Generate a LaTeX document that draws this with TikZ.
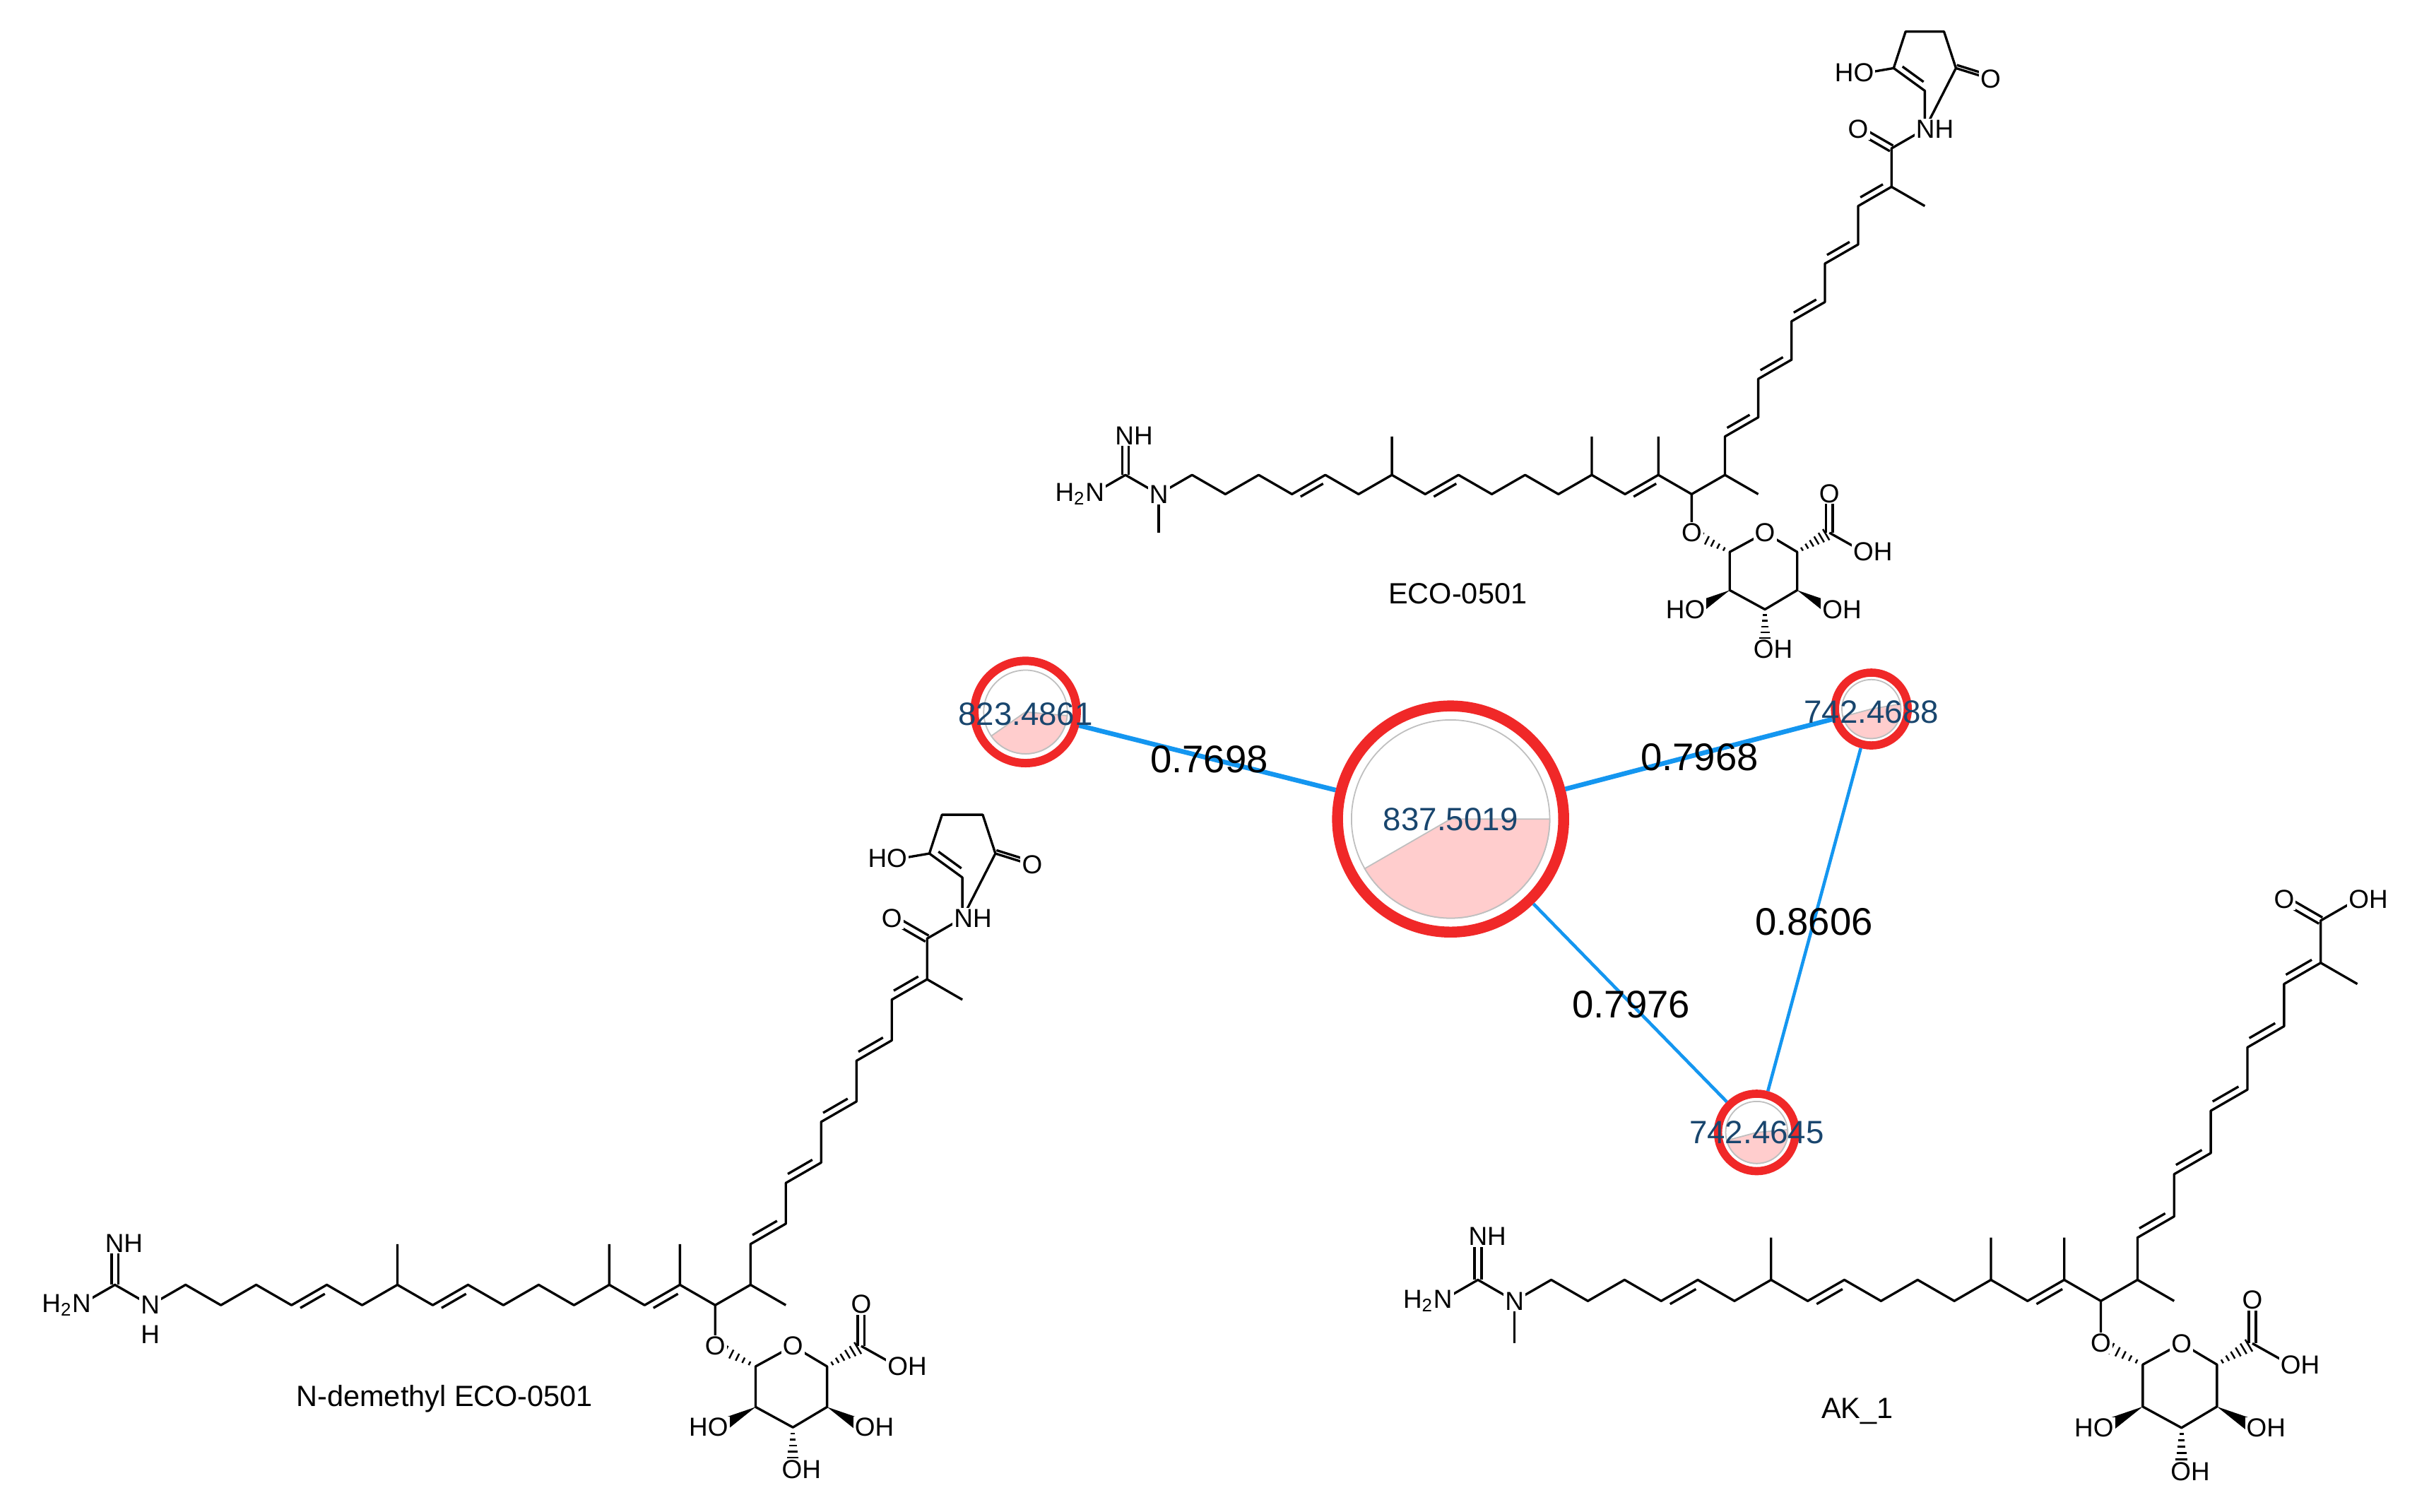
\documentclass[tikz,border=0pt]{standalone}
\usepackage{fontspec}
\setmainfont{Liberation Sans}
\usetikzlibrary{calc}
\definecolor{edgeblue}{RGB}{20,150,240}
\definecolor{ringred}{RGB}{240,40,40}
\definecolor{pinkfill}{RGB}{255,205,205}
\definecolor{lblue}{RGB}{25,70,110}
\tikzset{
  bond/.style={line width=0.95pt, line join=round},
  atom/.style={fill=white, inner sep=0.6pt, font=\fontsize{10.5}{10.5}\selectfont},
  netnode/.style={circle, draw=ringred, fill=white, inner sep=0pt},
  edgelbl/.style={font=\fontsize{15.5}{15.5}\selectfont},
  masslbl/.style={font=\fontsize{13}{13}\selectfont, text=lblue, inner sep=0pt},
  cname/.style={font=\fontsize{11.8}{11.8}\selectfont},
  netedge/.style={draw=edgeblue}
}
\newcommand{\dbl}[4]{\draw[bond, shorten <=2.5pt, shorten >=2.5pt] ($(#1)!2.6pt!#3:(#2)$) -- ($(#2)!2.6pt!#4:(#1)$);}
\newcommand{\dblc}[2]{\draw[bond] ($(#1)!1.3pt!90:(#2)$) -- ($(#2)!1.3pt!-90:(#1)$);\draw[bond] ($(#1)!1.3pt!-90:(#2)$) -- ($(#2)!1.3pt!90:(#1)$);}
\newcommand{\hsh}[2]{\foreach \t [evaluate=\t as \w using 0.4+\t*2.4] in {0.15,0.3,0.45,0.6,0.75,0.9}{\draw[line width=0.7pt] ($(#1)!\t!(#2)!\w pt!90:(#2)$) -- ($(#1)!\t!(#2)!\w pt!-90:(#2)$);}}
\newcommand{\wdg}[2]{\fill (#1) -- ($(#2)!2.8pt!90:(#1)$) -- ($(#2)!2.8pt!-90:(#1)$) -- cycle;}
\newcommand{\mol}[1]{%
\path (0,0) coordinate (N) (-21.5,12.4) coordinate (Cg) (-21.5,37.2) coordinate (Ni) (-43,0) coordinate (Na) (0,-24.8) coordinate (NMe)
 (21.5,12.4) coordinate (C1) (43,0) coordinate (C2) (64.5,12.4) coordinate (C3) (86,0) coordinate (C4)
 (107.5,12.4) coordinate (C5) (129,0) coordinate (C6) (150.5,12.4) coordinate (C7) (150.5,37.2) coordinate (M7)
 (172,0) coordinate (C8) (193.5,12.4) coordinate (C9) (215,0) coordinate (C10) (236.5,12.4) coordinate (C11)
 (258,0) coordinate (C12) (279.5,12.4) coordinate (C13) (279.5,37.2) coordinate (M13) (301,0) coordinate (C14)
 (322.5,12.4) coordinate (C15) (322.5,37.2) coordinate (M15) (344,0) coordinate (C16) (344,-24.8) coordinate (Og)
 (365.5,12.4) coordinate (C17) (387,0) coordinate (M17) (365.5,37.2) coordinate (C18) (387,49.6) coordinate (C19)
 (387,74.4) coordinate (C20) (408.5,86.8) coordinate (C21) (408.5,111.6) coordinate (C22) (430,124) coordinate (C23)
 (430,148.8) coordinate (C24) (451.5,161.2) coordinate (C25) (451.5,186) coordinate (C26) (473,198.4) coordinate (C27)
 (494.5,186) coordinate (M27) (473,223.2) coordinate (C28) (451.5,235.6) coordinate (O28) (494.5,235.6) coordinate (N28)
 (494.5,260.4) coordinate (R1) (474.4,275.0) coordinate (R2) (482.1,298.6) coordinate (R3) (506.9,298.6) coordinate (R4)
 (514.6,275.0) coordinate (R5) (457,272) coordinate (RO2) (537,268) coordinate (RO5)
 (368.6,-37.3) coordinate (S1) (391.3,-24.9) coordinate (SO) (412.1,-37.3) coordinate (S5) (432.9,-24.9) coordinate (SC)
 (432.9,0.5) coordinate (SCO) (455,-37.3) coordinate (SCOH) (412.1,-62) coordinate (S4) (391.3,-74.4) coordinate (S3)
 (391.3,-99) coordinate (S3O) (368.6,-62) coordinate (S2) (346,-74.4) coordinate (S2O) (434.7,-74.4) coordinate (S4O);
\draw[bond] (Na)--(Cg)--(N)--(C1)--(C2)--(C3)--(C4)--(C5)--(C6)--(C7)--(C8)--(C9)--(C10)--(C11)--(C12)--(C13)--(C14)--(C15)--(C16)--(C17)--(C18)--(C19)--(C20)--(C21)--(C22)--(C23)--(C24)--(C25)--(C26)--(C27)--(C28)--(N28);
\draw[bond] (C7)--(M7) (C13)--(M13) (C15)--(M15) (C16)--(Og) (C17)--(M17) (C27)--(M27);
\dblc{Cg}{Ni}\dblc{C28}{O28}
\dbl{C4}{C5}{-90}{90}\dbl{C8}{C9}{-90}{90}\dbl{C14}{C15}{-90}{90}
\dbl{C18}{C19}{90}{-90}\dbl{C20}{C21}{90}{-90}\dbl{C22}{C23}{90}{-90}\dbl{C24}{C25}{90}{-90}\dbl{C26}{C27}{90}{-90}
\ifnum#1=2\else
 \draw[bond] (N28)--(R1)--(R2)--(R3)--(R4)--(R5)--cycle (R2)--(RO2) (R5)--(RO5);
 \draw[bond] ($(R5)!1.3pt!90:(RO5)$) -- ($(RO5)!1.3pt!-90:(R5)$);
 \dbl{R1}{R2}{-90}{90}
\fi
\ifnum#1=1\else \draw[bond] (N)--(NMe);\fi
\draw[bond] (S1)--(SO)--(S5)--(S4)--(S3)--(S2)--cycle (SC)--(SCOH);
\dblc{SC}{SCO}
\hsh{S1}{Og}\hsh{S5}{SC}\hsh{S3}{S3O}
\wdg{S2}{S2O}\wdg{S4}{S4O}
\node[atom] (lN) at (N) {N};
\node[atom] (lNi) at (-16,37.8) {NH};
\node[atom] (lNa) at (-51,0) {H\textsubscript{2}N};
\ifnum#1=1 \node[atom] (lH) at (0,-18) {H};\fi
\node[atom] (lOg) at (Og) {O};
\node[atom] (lSO) at (SO) {O};
\node[atom] (lSCO) at (SCO) {O};
\node[atom] (lSCOH) at (461,-37.3) {OH};
\node[atom] (lS2O) at (340,-74.4) {HO};
\node[atom] (lS4O) at (441,-74.4) {OH};
\node[atom] (lS3O) at (396.5,-100) {OH};
\node[atom] (lO28) at (O28) {O};
\ifnum#1=2
 \node[atom] (lN28) at (501,235.6) {OH};
\else
 \node[atom] (lN28) at (501,235.6) {NH};
 \node[atom] (lRO2) at (449,272) {HO};
 \node[atom] (lRO5) at (RO5) {O};
\fi
}
\begin{document}
\begin{tikzpicture}[x=0.021926cm,y=0.021926cm]
\useasboundingbox (0,0) rectangle (1568,976);
\fill[white] (0,0) rectangle (1568,976);
\begin{scope}
\clip (0,0) rectangle (1568,976);
\begin{scope}[shift={(748,657)}]\mol{0}\end{scope}
\begin{scope}[shift={(97,133.5)},scale=1.06]\mol{1}\end{scope}
\begin{scope}[shift={(977.7,136.2)},scale=1.1]\mol{2}\end{scope}
\end{scope}
\node[cname] (nECO) at (941,593) {ECO-0501};
\node[cname] (nDEM) at (287,73) {N-demethyl ECO-0501};
\node[cname] (nAK) at (1199,65) {AK\_1};
\node[netnode, line width=4.4pt, minimum size=3.201cm] (n837) at (936.4,447.3) {};
\node[netnode, line width=3.4pt, minimum size=1.447cm] (n823) at (662,516.4) {};
\node[netnode, line width=3.3pt, minimum size=1.031cm] (n4688) at (1208,518.3) {};
\node[netnode, line width=3.3pt, minimum size=1.096cm] (n4645) at (1134,245) {};
\draw[netedge, line width=1.9pt] (n823) -- (n837);
\draw[netedge, line width=1.9pt] (n837) -- (n4688);
\draw[netedge, line width=1.3pt] (n837) -- (n4645);
\draw[netedge, line width=1.3pt] (n4688) -- (n4645);
\draw[gray!50, line width=0.5pt] (n837.center) circle[radius=1.403cm];
\filldraw[fill=pinkfill, draw=gray!50, line width=0.5pt] (n837.center) -- ++(0:1.403cm) arc[start angle=0, end angle=-150, radius=1.403cm] -- cycle;
\draw[gray!50, line width=0.5pt] (n823.center) circle[radius=0.592cm];
\filldraw[fill=pinkfill, draw=gray!50, line width=0.5pt] (n823.center) -- ++(-5:0.592cm) arc[start angle=-5, end angle=-145, radius=0.592cm] -- cycle;
\draw[gray!50, line width=0.5pt] (n4688.center) circle[radius=0.417cm];
\filldraw[fill=pinkfill, draw=gray!50, line width=0.5pt] (n4688.center) -- ++(10:0.417cm) arc[start angle=10, end angle=-165, radius=0.417cm] -- cycle;
\draw[gray!50, line width=0.5pt] (n4645.center) circle[radius=0.439cm];
\filldraw[fill=pinkfill, draw=gray!50, line width=0.5pt] (n4645.center) -- ++(5:0.439cm) arc[start angle=5, end angle=-165, radius=0.439cm] -- cycle;
\node[masslbl] (t837) at (936.4,447) {837.5019};
\node[masslbl] (t823) at (662,515) {823.4861};
\node[masslbl] (t4688) at (1208,516.5) {742.4688};
\node[masslbl] (t4645) at (1134,245) {742.4645};
\node[edgelbl] (e1) at (780.6,486) {0.7698};
\node[edgelbl] (e2) at (1097,487) {0.7968};
\node[edgelbl] (e3) at (1053,327.5) {0.7976};
\node[edgelbl] (e4) at (1171,381) {0.8606};
\end{tikzpicture}
\end{document}
